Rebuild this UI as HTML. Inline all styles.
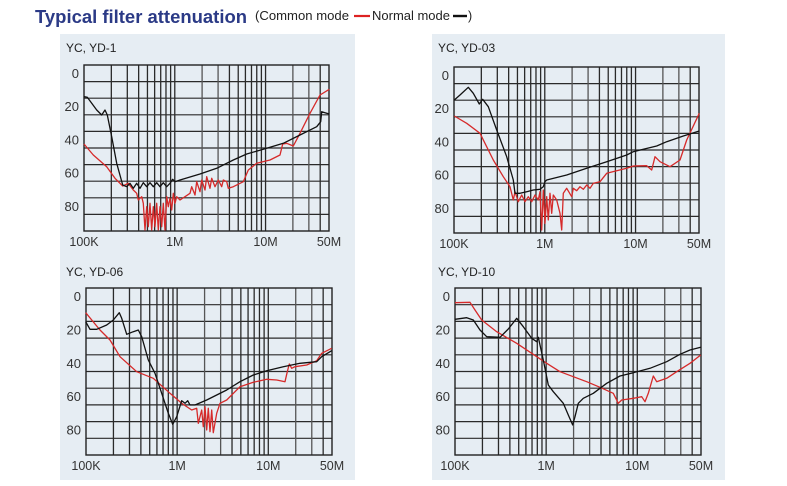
<!DOCTYPE html>
<html><head><meta charset="utf-8"><style>
body{margin:0;background:#fff;width:787px;height:486px;overflow:hidden;font-family:"Liberation Sans",Arial,sans-serif}
svg{position:absolute;left:0;top:0}
</style></head><body>
<svg id="s" width="787" height="486" xmlns="http://www.w3.org/2000/svg">
<rect x="60" y="34" width="295" height="446" fill="#e6edf3"/>
<rect x="432" y="34" width="293" height="446" fill="#e6edf3"/>
<text x="35" y="23" font-size="18.5" font-weight="bold" fill="#2b3a86" font-family="Liberation Sans, sans-serif" textLength="212" lengthAdjust="spacingAndGlyphs">Typical filter attenuation</text>
<text x="255" y="20" font-size="12.5" fill="#222" font-family="Liberation Sans, sans-serif" textLength="94" lengthAdjust="spacingAndGlyphs">(Common mode</text>
<line x1="354" y1="16" x2="370" y2="16" stroke="#d22" stroke-width="2.2"/>
<text x="372" y="20" font-size="12.5" fill="#222" font-family="Liberation Sans, sans-serif" textLength="78" lengthAdjust="spacingAndGlyphs">Normal mode</text>
<line x1="453" y1="16" x2="467" y2="16" stroke="#111" stroke-width="2.4"/>
<text x="468" y="20" font-size="12.5" fill="#222" font-family="Liberation Sans, sans-serif">)</text>
</svg>
<script>
var s=document.getElementById('s'),NS='http://www.w3.org/2000/svg';
function el(t,a,txt){var e=document.createElementNS(NS,t);for(var k in a)e.setAttribute(k,a[k]);if(txt)e.textContent=txt;s.appendChild(e);return e;}
var P=[
{t:'YC, YD-1',x0:84,y0:65,x1:329,y1:231,tx:66,ty:52,ox:0,oy:0,
b:[252,290,262,292,290,330,305,345,315,330,322,345,335,410,350,490,368,555,380,560,390,550,400,565,410,550,420,565,430,548,440,560,450,548,460,560,470,548,480,560,490,548,500,560,510,550,518,538,525,545,540,540,600,522,650,505,700,480,740,462,800,445,850,430,900,405,950,380,962,365,965,335,975,338,988,342],
r:[252,432,280,465,320,500,345,535,368,558,385,550,400,570,410,580,415,600,425,590,430,610,435,690,440,620,445,680,450,610,455,690,460,620,465,680,470,610,475,690,480,620,485,680,490,610,495,690,500,590,505,620,510,595,515,630,520,580,525,610,530,590,540,600,555,590,570,580,575,560,585,585,590,545,600,575,605,540,615,570,620,530,630,565,635,535,645,560,655,540,665,560,670,540,680,545,685,565,700,560,730,545,745,510,770,490,810,480,840,465,848,432,860,430,880,438,900,400,930,340,960,285,988,268]},
{t:'YC, YD-03',x0:454,y0:67,x1:699,y1:233,tx:438,ty:52,ox:400,oy:0,
b:[163,300,180,285,205,262,220,280,238,312,248,298,265,320,290,390,320,470,340,540,345,580,360,580,380,575,400,570,420,568,430,560,435,545,440,540,500,525,560,505,620,485,680,465,700,455,730,448,770,438,800,425,850,408,898,393],
r:[163,348,200,370,240,400,280,480,310,530,330,560,340,600,345,575,355,605,365,585,375,605,385,590,395,605,405,585,415,600,420,575,425,690,430,570,435,670,440,590,445,660,450,580,455,640,460,585,470,600,480,640,485,690,490,580,500,565,515,590,520,565,530,572,540,560,550,568,560,555,570,565,580,550,600,545,620,520,680,505,700,498,740,497,755,510,765,470,780,485,810,500,840,480,860,420,898,340]},
{t:'YC, YD-06',x0:86,y0:288,x1:332,y1:455,tx:66,ty:276,ox:0,oy:240,
b:[257,245,270,268,290,268,320,255,340,240,358,218,365,235,380,283,400,275,415,270,425,290,445,360,465,400,485,460,505,520,518,553,530,530,545,482,555,490,563,482,570,495,585,495,620,480,680,450,720,425,760,405,800,392,850,380,900,370,950,365,965,350,995,332],
r:[257,218,300,270,330,300,360,350,410,395,460,415,510,460,545,490,575,510,590,505,595,550,605,510,610,560,615,500,620,570,625,505,630,575,635,510,640,578,650,520,660,490,680,480,720,440,760,427,800,418,830,420,855,425,862,395,868,372,875,385,885,380,920,375,950,362,965,340,995,325]},
{t:'YC, YD-10',x0:455,y0:288,x1:701,y1:455,tx:438,ty:276,ox:400,oy:250,
b:[165,208,200,203,220,210,240,240,260,260,300,262,325,237,350,205,370,230,395,265,410,275,415,262,430,330,445,405,460,425,490,460,505,495,518,525,525,500,535,460,550,445,580,430,620,400,660,378,700,368,750,355,800,335,840,313,870,300,902,292],
r:[165,158,210,157,225,180,245,210,290,245,350,280,440,340,480,365,560,395,600,412,640,430,655,460,665,450,700,445,725,440,735,455,745,430,760,378,770,395,800,385,830,365,870,340,902,315]}
];
var F='Liberation Sans, sans-serif';
P.forEach(function(p){
 var w=p.x1-p.x0,h=p.y1-p.y0,D=w/Math.log10(500);
 el('text',{x:p.tx,y:p.ty,'font-size':12,fill:'#222','font-family':F},p.t);
 for(var i=1;i<10;i++){var y=p.y0+h*i/10;el('line',{x1:p.x0,y1:y,x2:p.x1,y2:y,stroke:'#2a2a2a','stroke-width':1.2});}
 for(var d=0;d<3;d++)for(var m=2;m<=10;m++){var u=d+Math.log10(m);if(u>=Math.log10(500))continue;var x=p.x0+u*D;
  el('line',{x1:x,y1:p.y0,x2:x,y2:p.y1,stroke:(m==3||m==2)&&d>0?'#555':'#2a2a2a','stroke-width':1.3});}
 el('rect',{x:p.x0,y:p.y0,width:w,height:h,fill:'none',stroke:'#222','stroke-width':1.4});
 ['0','20','40','60','80'].forEach(function(l,i){el('text',{x:p.x0-5,y:p.y0+h*(2*i)/10+13,'font-size':13,fill:'#333','text-anchor':'end','font-family':F},l);});
 [['100K',0],['1M',1],['10M',2],['50M',Math.log10(500)]].forEach(function(a){el('text',{x:p.x0+a[1]*D,y:p.y1+15,'font-size':12.5,fill:'#333','text-anchor':'middle','font-family':F},a[0]);});
 function path(arr,c){var d='';for(var i=0;i<arr.length;i+=2){d+=(i?'L':'M')+(p.ox+arr[i]/3).toFixed(1)+','+(p.oy+arr[i+1]/3).toFixed(1);}el('path',{d:d,fill:'none',stroke:c,'stroke-width':1.3,'stroke-linejoin':'round'});}
 path(p.r,'#d62a2a');path(p.b,'#111');
});
</script>
</body></html>
